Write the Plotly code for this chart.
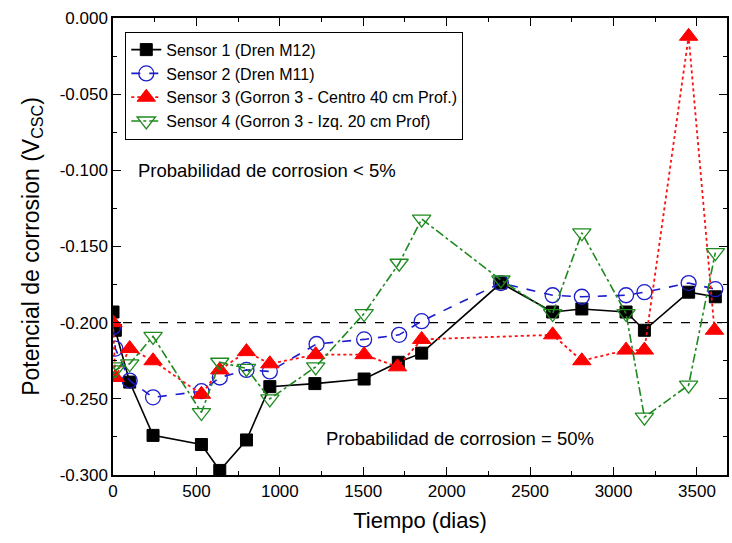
import plotly.graph_objects as go

# Corrosion potential readings (V vs CSC) over time (days)
s1_days = [0, 14, 100, 240, 530, 640, 800, 940, 1210, 1505, 1710, 1850, 2325, 2635, 2810, 3075, 3185, 3450, 3610]
s1_vals = [-0.193, -0.205, -0.239, -0.274, -0.280, -0.297, -0.277, -0.242, -0.240, -0.237, -0.226, -0.220,
           -0.174, -0.193, -0.191, -0.193, -0.205, -0.180, -0.183]

s2_days = [0, 14, 100, 240, 530, 640, 800, 940, 1220, 1505, 1715, 1850, 2325, 2635, 2810, 3075, 3185, 3450, 3610]
s2_vals = [-0.203, -0.217, -0.238, -0.249, -0.245, -0.236, -0.231, -0.232, -0.214, -0.211, -0.208, -0.199,
           -0.174, -0.182, -0.183, -0.182, -0.180, -0.174, -0.178]

s3_days = [0, 14, 100, 240, 530, 640, 800, 940, 1215, 1505, 1705, 1850, 2635, 2810, 3075, 3185, 3450, 3605]
s3_vals = [-0.200, -0.236, -0.217, -0.225, -0.247, -0.231, -0.219, -0.227, -0.221, -0.221, -0.229, -0.211,
           -0.208, -0.225, -0.218, -0.218, -0.012, -0.205]

s4_days = [0, 14, 100, 240, 530, 640, 800, 940, 1215, 1505, 1715, 1850, 2325, 2635, 2810, 3075, 3185, 3450, 3610]
s4_vals = [-0.229, -0.231, -0.227, -0.209, -0.259, -0.226, -0.230, -0.250, -0.229, -0.194, -0.161, -0.132,
           -0.172, -0.194, -0.141, -0.194, -0.262, -0.241, -0.154]

names = ["Sensor 1 (Dren M12)", "Sensor 2 (Dren M11)",
         "Sensor 3 (Gorron 3 - Centro 40 cm Prof.)", "Sensor 4 (Gorron 3 - Izq. 20 cm Prof)"]

# 50% corrosion-probability threshold
threshold_value = -0.200
threshold_span = [60, 3650]

y_ticks = [0.0, -0.05, -0.1, -0.15, -0.2, -0.25, -0.3]
y_tick_text = ["0.000", "-0.050", "-0.100", "-0.150", "-0.200", "-0.250", "-0.300"]
x_ticks = [0, 500, 1000, 1500, 2000, 2500, 3000, 3500]

FONT = "Liberation Sans, Arial, sans-serif"

fig = go.Figure()

fig.add_trace(go.Scatter(
    x=threshold_span, y=[threshold_value, threshold_value], mode="lines",
    line=dict(color="black", width=1.2, dash="dash"), showlegend=False, hoverinfo="skip"))

fig.add_trace(go.Scatter(
    x=s1_days, y=s1_vals, name=names[0], mode="lines+markers",
    line=dict(color="black", width=1.6),
    marker=dict(symbol="square", size=12, color="black", line=dict(color="black", width=1))))

fig.add_trace(go.Scatter(
    x=s2_days, y=s2_vals, name=names[1], mode="lines+markers",
    line=dict(color="#1c1ccc", width=1.6, dash="dash"),
    marker=dict(symbol="circle-open", size=15, color="#1c1ccc", line=dict(width=1.3))))

fig.add_trace(go.Scatter(
    x=s3_days, y=s3_vals, name=names[2], mode="lines+markers",
    line=dict(color="#ff1010", width=1.8, dash="dot"),
    marker=dict(symbol="triangle-up", size=16, color="#ff0000", line=dict(color="#ff0000", width=1))))

fig.add_trace(go.Scatter(
    x=s4_days, y=s4_vals, name=names[3], mode="lines+markers",
    line=dict(color="#1f8a1f", width=1.6, dash="dashdot"),
    marker=dict(symbol="triangle-down-open", size=16, color="#1f8a1f", line=dict(width=1.3))))

fig.add_annotation(x=140, y=-0.1, xref="x", yref="y", text="Probabilidad de corrosion < 5%",
                   showarrow=False, xanchor="left", font=dict(family=FONT, size=18.5, color="black"))
fig.add_annotation(x=1265, y=-0.276, xref="x", yref="y", text="Probabilidad de corrosion = 50%",
                   showarrow=False, xanchor="left", font=dict(family=FONT, size=18.5, color="black"))

axis_common = dict(showline=True, linecolor="black", linewidth=1.5, mirror="allticks",
                   ticks="inside", ticklen=8, tickwidth=1.3, tickcolor="black",
                   showgrid=False, zeroline=False,
                   tickfont=dict(family=FONT, size=17, color="black"))

fig.update_xaxes(range=[0, 3680], tickvals=x_ticks,
                 minor=dict(dtick=250, ticks="inside", ticklen=4, tickcolor="black", tickwidth=1.2),
                 title=dict(text="Tiempo (dias)", font=dict(family=FONT, size=22, color="black"), standoff=12),
                 **axis_common)
fig.update_yaxes(range=[-0.3, 0.0], tickvals=y_ticks, ticktext=y_tick_text,
                 minor=dict(dtick=0.025, tick0=0, ticks="inside", ticklen=4, tickcolor="black", tickwidth=1.2),
                 title=dict(text="Potencial de corrosion (V<sub>CSC</sub>)",
                            font=dict(family=FONT, size=23, color="black"), standoff=14),
                 **axis_common)

fig.update_layout(
    width=732, height=543,
    margin=dict(l=113, r=3, t=18, b=68),
    plot_bgcolor="white", paper_bgcolor="white",
    font=dict(family=FONT, color="black"),
    legend=dict(x=0.02, y=0.97, xanchor="left", yanchor="top",
                bordercolor="black", borderwidth=1, bgcolor="white",
                font=dict(family=FONT, size=16, color="black"),
                tracegroupgap=0, itemwidth=30),
)

fig.write_html("out.html")
